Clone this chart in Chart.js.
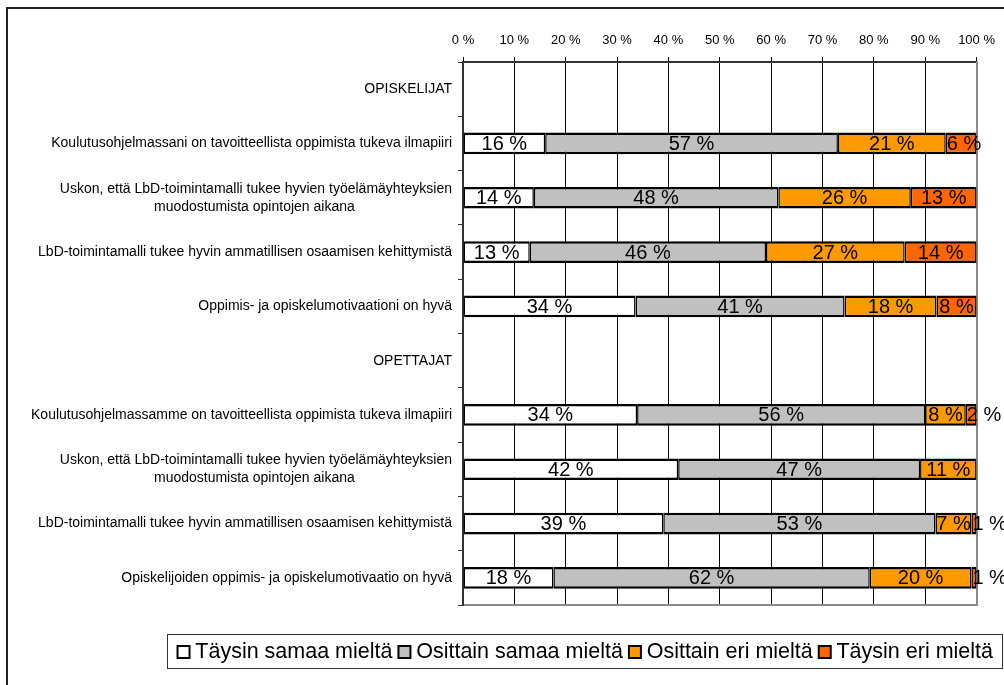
<!DOCTYPE html>
<html>
<head>
<meta charset="utf-8">
<script src="https://cdn.jsdelivr.net/npm/chart.js@4.4.1/dist/chart.umd.min.js"></script>
<style>
html,body{margin:0;padding:0;background:#fff;}
#wrap{position:relative;width:1004px;height:685px;}
</style>
</head>
<body>
<div id="wrap"><canvas id="c" width="1004" height="685"></canvas></div>
<script>
// ---- data ----
const categories = [
  "OPISKELIJAT",
  "Koulutusohjelmassani on tavoitteellista oppimista tukeva ilmapiiri",
  ["Uskon, että LbD-toimintamalli tukee hyvien työelämäyhteyksien", "muodostumista opintojen aikana"],
  "LbD-toimintamalli tukee hyvin ammatillisen osaamisen kehittymistä",
  "Oppimis- ja opiskelumotivaationi on hyvä",
  "OPETTAJAT",
  "Koulutusohjelmassamme on tavoitteellista oppimista tukeva ilmapiiri",
  ["Uskon, että LbD-toimintamalli tukee hyvien työelämäyhteyksien", "muodostumista opintojen aikana"],
  "LbD-toimintamalli tukee hyvin ammatillisen osaamisen kehittymistä",
  "Opiskelijoiden oppimis- ja opiskelumotivaatio on hyvä"
];
const seriesNames = ["Täysin samaa mieltä", "Osittain samaa mieltä", "Osittain eri mieltä", "Täysin eri mieltä"];
const taysinSamaa   = [null, 16, 13.8, 13, 33.6, null, 33.9, 41.9, 39, 17.6];
const osittainSamaa = [null, 57, 47.6, 46, 40.7, null, 56.1, 47.1, 53, 61.6];
const osittainEri   = [null, 21, 25.8, 27, 17.9, null, 7.9, 11.0, 7, 19.8];
const taysinEri     = [null, 6, 12.8, 14, 7.8, null, 2.1, 0, 1, 1.0];
const xTicks = [0, 10, 20, 30, 40, 50, 60, 70, 80, 90, 100];
const seriesColors = ["#FFFFFF", "#C0C0C0", "#FF9900", "#FF6600"];

const FAM = "'Liberation Sans', Arial, sans-serif";
const LABEL_FONT_SIZE = 14;

// centre the 2nd line of multi-line labels under the 1st (right aligned block)
const mctx = document.createElement('canvas').getContext('2d');
mctx.font = LABEL_FONT_SIZE + "px " + FAM;
function padLabel(lbl) {
  if (!Array.isArray(lbl)) return lbl;
  const w0 = mctx.measureText(lbl[0]).width;
  const nb = mctx.measureText('\u00A0').width || 3.9;
  return lbl.map((line, i) => {
    if (i === 0) return line;
    const need = (w0 - mctx.measureText(line).width) / 2;
    return line + '\u00A0'.repeat(Math.max(0, Math.round(need / nb)));
  });
}

const framePlugin = {
  id: 'frame',
  beforeDraw(chart) {
    const ctx = chart.ctx;
    ctx.save();
    ctx.fillStyle = '#fff';
    ctx.fillRect(0, 0, chart.width, chart.height);
    ctx.strokeStyle = '#222';
    ctx.lineWidth = 2;
    ctx.strokeRect(7, 8, 1100, 1000);
    ctx.restore();
  },
  afterDraw(chart) {
    const lg = chart.legend;
    if (!lg || !lg.legendHitBoxes || !lg.legendHitBoxes.length) return;
    const hb = lg.legendHitBoxes;
    const l = Math.round(hb[0].left - 16);
    const ctx = chart.ctx;
    ctx.save();
    ctx.strokeStyle = '#333';
    ctx.lineWidth = 1;
    ctx.strokeRect(l + 0.5, 634.5, 1002 - l, 34);
    ctx.restore();
  }
};

const valueLabels = {
  id: 'valueLabels',
  afterDatasetsDraw(chart) {
    const ctx = chart.ctx;
    ctx.save();
    ctx.font = "20px " + FAM;
    ctx.fillStyle = '#000';
    ctx.textBaseline = 'middle';
    chart.data.datasets.forEach((ds, di) => {
      const meta = chart.getDatasetMeta(di);
      meta.data.forEach((bar, i) => {
        const v = ds.data[i];
        if (v == null || v <= 0) return;
        const txt = Math.round(v) + ' %';
        const w = ctx.measureText(txt).width;
        const left = Math.min(bar.base, bar.x), right = Math.max(bar.base, bar.x);
        let x;
        if (w > right - left) { ctx.textAlign = 'left'; x = left + 1; }
        else { ctx.textAlign = 'center'; x = (left + right) / 2; }
        ctx.fillText(txt, x, bar.y + 1);
      });
    });
    ctx.restore();
  }
};

const seriesData = [taysinSamaa, osittainSamaa, osittainEri, taysinEri];

new Chart(document.getElementById('c'), {
  type: 'bar',
  data: {
    labels: categories.map(padLabel),
    datasets: seriesNames.map((name, k) => ({
      label: name,
      data: seriesData[k],
      backgroundColor: seriesColors[k],
      borderColor: '#000',
      borderWidth: {top: 2.5, bottom: 2.5, left: 1.5, right: 1.5},
      borderSkipped: false,
      barPercentage: 0.4,
      categoryPercentage: 1.0
    }))
  },
  options: {
    indexAxis: 'y',
    responsive: false,
    animation: false,
    devicePixelRatio: 1,
    layout: {padding: {left: 0, right: 0, top: 0, bottom: 12.25}},
    scales: {
      x: {
        type: 'linear', position: 'top', min: 0, max: 100, stacked: true,
        afterBuildTicks(s) { s.ticks = xTicks.map(v => ({value: v})); },
        ticks: {callback: v => v + ' %', font: {size: 13, family: FAM}, color: '#000', padding: 9, maxRotation: 0, autoSkip: false},
        grid: {color: '#000', lineWidth: 1, drawTicks: true, tickLength: 5, tickColor: '#000'},
        border: {color: '#333', width: 2},
        afterFit(s) { s.height = 62; }
      },
      xb: {
        type: 'linear', position: 'bottom', min: 0, max: 100, display: true,
        ticks: {display: false}, grid: {display: false, drawTicks: false},
        border: {color: '#8a8a8a', width: 2},
        afterFit(s) { s.height = 25.25; }
      },
      y: {
        type: 'category', position: 'left', stacked: true, offset: true,
        ticks: {font: {size: LABEL_FONT_SIZE, family: FAM, lineHeight: 1.3}, color: '#000', padding: 6, autoSkip: false},
        grid: {drawOnChartArea: false, drawTicks: true, tickLength: 5, color: '#333', offset: true},
        border: {color: '#333', width: 2},
        afterFit(s) { s.width = 463; }
      },
      yr: {
        type: 'linear', position: 'right', display: true, min: 0, max: 1,
        ticks: {display: false}, grid: {display: false, drawTicks: false},
        border: {color: '#8a8a8a', width: 2},
        afterFit(s) { s.width = 27; }
      }
    },
    plugins: {
      legend: {
        display: true, position: 'bottom', align: 'end',
        labels: {
          font: {size: 21.5, family: FAM},
          color: '#000', usePointStyle: true, pointStyle: 'rect',
          boxWidth: 2, boxHeight: 12, padding: 11
        }
      },
      tooltip: {enabled: false}
    }
  },
  plugins: [framePlugin, valueLabels]
});
</script>
</body>
</html>
